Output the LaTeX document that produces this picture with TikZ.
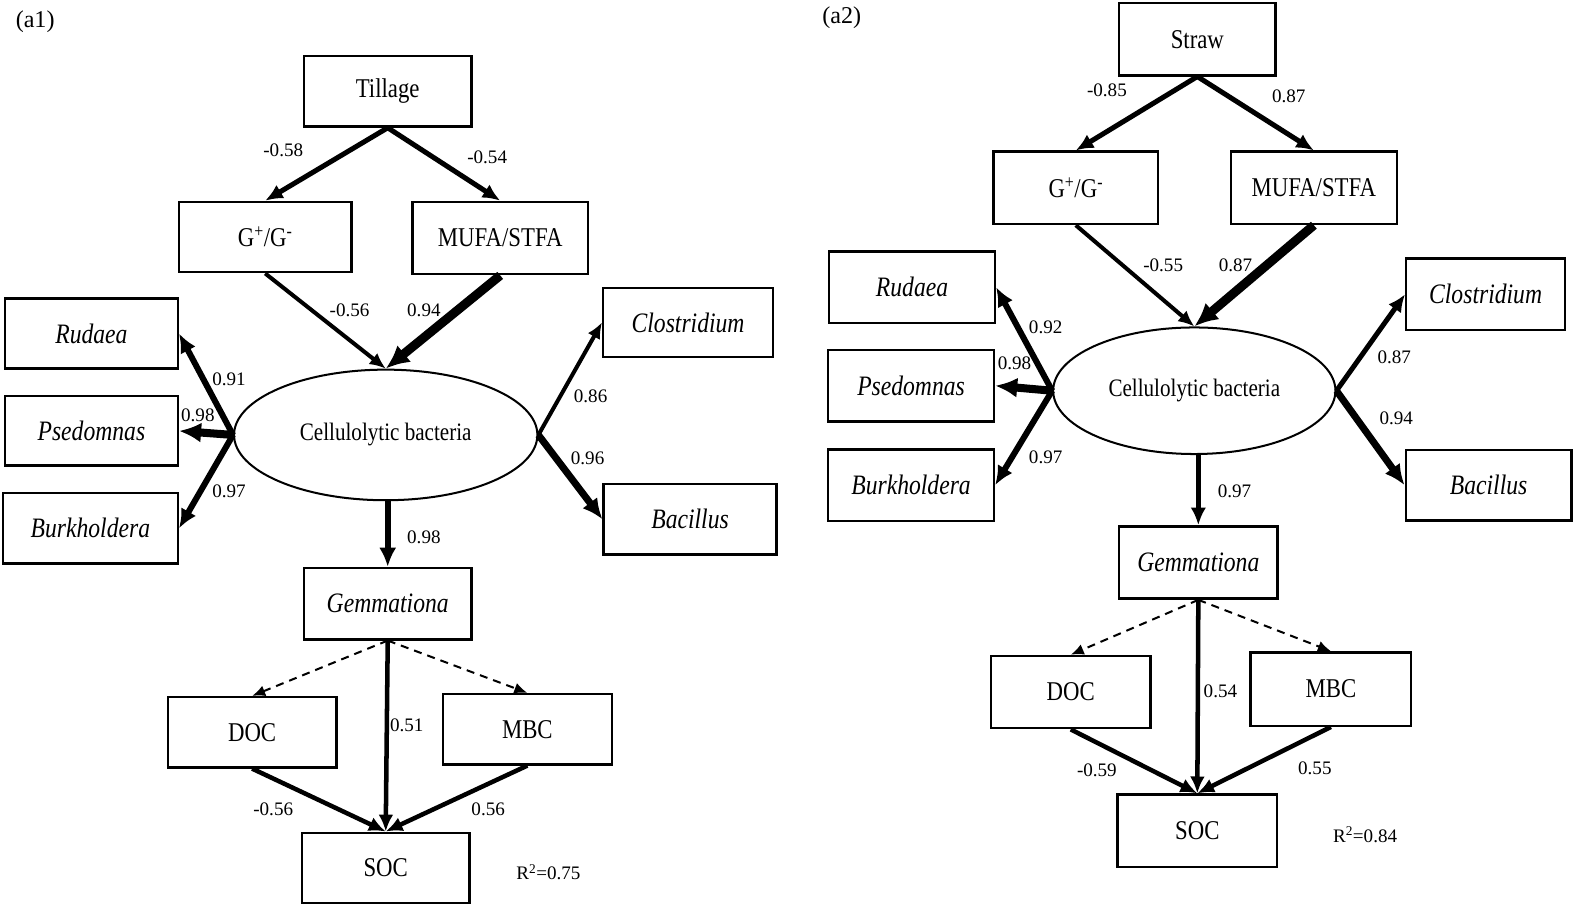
\documentclass[tikz,border=0pt]{standalone}
\usepackage{fontspec}
\setmainfont{Liberation Serif}
\newfontfamily\boxfont[FakeStretch=0.84]{Liberation Serif}
\usetikzlibrary{arrows.meta,shapes.geometric}
\begin{document}
\begin{tikzpicture}[x=1pt,y=-1pt,
  box/.style={draw,line width=2.4pt,inner sep=0pt,font=\boxfont\fontsize{27}{27}\selectfont},
  ibox/.style={box,font=\boxfont\fontsize{28}{28}\selectfont\itshape},
  ellbox/.style={draw,ellipse,line width=2pt,inner sep=0pt,font=\boxfont\fontsize{25}{25}\selectfont},
  lbl/.style={inner sep=0pt,font=\fontsize{19}{19}\selectfont},
  ttl/.style={inner sep=0pt,font=\fontsize{24}{24}\selectfont},
  arr/.style={line width=#1,-{Latex[length=10pt 1.5,width=8pt 1.5]}},
  arr/.default=4.5pt,
  darr/.style={line width=2pt,dash pattern=on 8pt off 6pt,-{Latex[length=13pt,width=11pt]}},
]
\fill[white] (0,0) rectangle (1568,904);
\useasboundingbox (0,0) rectangle (1568,904);

% ---------------- panel a1 ----------------
\node[ttl] (t1) at (35,22) {(a1)};
\node[box,minimum width=167pt,minimum height=70pt] (till) at (386,91) {Tillage};
\node[box,minimum width=172pt,minimum height=70pt] (gg1) at (264,236) {G\textsuperscript{+}/G\textsuperscript{-}};
\node[box,minimum width=175pt,minimum height=72pt] (mufa1) at (498,237) {MUFA/STFA};
\node[ibox,minimum width=172pt,minimum height=70pt] (rud1) at (91,332) {Rudaea};
\node[ibox,minimum width=172pt,minimum height=69pt] (pse1) at (91,429) {Psedomnas};
\node[ibox,minimum width=174pt,minimum height=70pt] (bur1) at (90,526) {Burkholdera};
\node[ibox,minimum width=169pt,minimum height=69pt] (clo1) at (685,321) {Clostridium};
\node[ibox,minimum width=172pt,minimum height=70pt] (bac1) at (687,517) {Bacillus};
\node[ellbox,minimum width=302pt,minimum height=130pt] (ell1) at (384,433) {Cellulolytic bacteria};
\node[ibox,minimum width=167pt,minimum height=71pt] (gem1) at (386,601) {Gemmationa};
\node[box,minimum width=168pt,minimum height=70pt] (doc1) at (251,729) {DOC};
\node[box,minimum width=168pt,minimum height=70pt] (mbc1) at (525,726) {MBC};
\node[box,minimum width=167pt,minimum height=70pt] (soc1) at (384,864) {SOC};
\node[lbl] (r1) at (546,868) {R\textsuperscript{2}=0.75};

\draw[arr=5pt] (till.south) -- (gg1.north);
\draw[arr=5pt] (till.south) -- (mufa1.north);
\draw[arr=4pt] (gg1.south) -- (ell1.north);
\draw[arr=9pt] (mufa1.south) -- (ell1.north);
\draw[arr=6pt] (ell1.west) -- (rud1.east);
\draw[arr=8pt] (ell1.west) -- (pse1.east);
\draw[arr=6pt] (ell1.west) -- (bur1.east);
\draw[arr=4pt] (ell1.east) -- (clo1.west);
\draw[arr=7pt] (ell1.east) -- (bac1.west);
\draw[arr=6pt] (ell1.south -| gem1.north) -- (gem1.north);
\draw[darr] (gem1.south) -- (doc1.north);
\draw[darr] (gem1.south) -- (mbc1.north);
\draw[arr=4.5pt] (gem1.south) -- (soc1.north);
\draw[arr=4.5pt] (doc1.south) -- (soc1.north);
\draw[arr=4.5pt] (mbc1.south) -- (soc1.north);

\node[lbl] (l1a) at (282,150) {-0.58};
\node[lbl] (l1b) at (485,157) {-0.54};
\node[lbl] (l1c) at (348,309) {-0.56};
\node[lbl] (l1d) at (422,309) {0.94};
\node[lbl] (l1e) at (228,378) {0.91};
\node[lbl] (l1f) at (197,413) {0.98};
\node[lbl] (l1g) at (228,489) {0.97};
\node[lbl] (l1h) at (588,395) {0.86};
\node[lbl] (l1i) at (585,456) {0.96};
\node[lbl] (l1j) at (422,535) {0.98};
\node[lbl] (l1k) at (405,722) {0.51};
\node[lbl] (l1l) at (272,806) {-0.56};
\node[lbl] (l1m) at (486,806) {0.56};

% ---------------- panel a2 ----------------
\node[ttl] (t2) at (838,18) {(a2)};
\node[box,minimum width=156pt,minimum height=72pt] (straw) at (1192,39) {Straw};
\node[box,minimum width=164pt,minimum height=72pt] (gg2) at (1071,187) {G\textsuperscript{+}/G\textsuperscript{-}};
\node[box,minimum width=165pt,minimum height=72pt] (mufa2) at (1308,187) {MUFA/STFA};
\node[ibox,minimum width=165pt,minimum height=71pt] (rud2) at (908,286) {Rudaea};
\node[ibox,minimum width=165pt,minimum height=71pt] (pse2) at (907,384) {Psedomnas};
\node[ibox,minimum width=165pt,minimum height=71pt] (bur2) at (907,483) {Burkholdera};
\node[ibox,minimum width=158pt,minimum height=71pt] (clo2) at (1479,293) {Clostridium};
\node[ibox,minimum width=165pt,minimum height=70pt] (bac2) at (1482,483) {Bacillus};
\node[ellbox,minimum width=281pt,minimum height=126pt] (ell2) at (1189,389) {Cellulolytic bacteria};
\node[ibox,minimum width=158pt,minimum height=72pt] (gem2) at (1193,560) {Gemmationa};
\node[box,minimum width=159pt,minimum height=72pt] (doc2) at (1066,689) {DOC};
\node[box,minimum width=160pt,minimum height=73pt] (mbc2) at (1325,686) {MBC};
\node[box,minimum width=159pt,minimum height=72pt] (soc2) at (1192,827) {SOC};
\node[lbl] (r2) at (1359,831) {R\textsuperscript{2}=0.84};

\draw[arr=5pt] (straw.south) -- (gg2.north);
\draw[arr=5pt] (straw.south) -- (mufa2.north);
\draw[arr=4pt] (gg2.south) -- (ell2.north);
\draw[arr=9pt] (mufa2.south) -- (ell2.north);
\draw[arr=6pt] (ell2.west) -- (rud2.east);
\draw[arr=8pt] (ell2.west) -- (pse2.east);
\draw[arr=6pt] (ell2.west) -- (bur2.east);
\draw[arr=5pt] (ell2.east) -- (clo2.west);
\draw[arr=7pt] (ell2.east) -- (bac2.west);
\draw[arr=5pt] (ell2.south -| gem2.north) -- (gem2.north);
\draw[darr] (gem2.south) -- (doc2.north);
\draw[darr] (gem2.south) -- (mbc2.north);
\draw[arr=4.5pt] (gem2.south) -- (soc2.north);
\draw[arr=4.5pt] (doc2.south) -- (soc2.north);
\draw[arr=4.5pt] (mbc2.south) -- (soc2.north);

\node[lbl] (l2a) at (1102,90) {-0.85};
\node[lbl] (l2b) at (1283,96) {0.87};
\node[lbl] (l2c) at (1158,264) {-0.55};
\node[lbl] (l2d) at (1230,264) {0.87};
\node[lbl] (l2e) at (1041,326) {0.92};
\node[lbl] (l2f) at (1010,362) {0.98};
\node[lbl] (l2g) at (1041,455) {0.97};
\node[lbl] (l2h) at (1388,356) {0.87};
\node[lbl] (l2i) at (1390,416) {0.94};
\node[lbl] (l2j) at (1229,489) {0.97};
\node[lbl] (l2k) at (1215,688) {0.54};
\node[lbl] (l2l) at (1092,767) {-0.59};
\node[lbl] (l2m) at (1309,765) {0.55};
\end{tikzpicture}
\end{document}
